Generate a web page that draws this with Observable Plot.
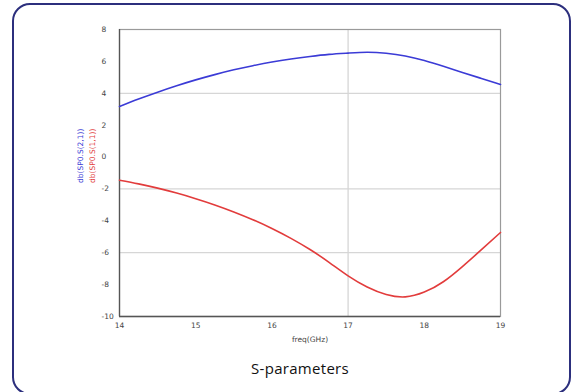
<!DOCTYPE html>
<html>
<head>
<meta charset="utf-8">
<script src="https://cdn.jsdelivr.net/npm/d3@7"></script>
<script src="https://cdn.jsdelivr.net/npm/@observablehq/plot@0.6"></script>
<style>
  html, body { margin: 0; padding: 0; background: #fff; }
  #page { position: relative; width: 574px; height: 392px; overflow: hidden; }
  #card { position: absolute; left: 12px; top: 3px; width: 559px; height: 392px;
          border: 2.5px solid #2c2f7d; border-radius: 18px; box-sizing: border-box; }
  #chart { position: absolute; left: 0; top: 0; }
  #title { position: absolute; left: 200px; width: 200px; top: 358px; text-align: center;
           font-family: "Open Sans", sans-serif; font-size: 15px; color: #111; letter-spacing: 0.3px; }
</style>
</head>
<body>
<div id="page">
  <div id="card"></div>
  <div id="chart"></div>
  <div id="title">S-parameters</div>
</div>
<script>
const freq = [14, 14.25, 14.5, 14.75, 15, 15.25, 15.5, 15.75, 16, 16.25, 16.5, 16.75, 17, 17.25, 17.5, 17.75, 18, 18.25, 18.5, 18.75, 19];
const s21 = [3.17, 3.64, 4.07, 4.47, 4.84, 5.17, 5.47, 5.73, 5.96, 6.15, 6.31, 6.44, 6.52, 6.57, 6.51, 6.34, 6.05, 5.69, 5.31, 4.93, 4.55];
const s11 = [-1.45, -1.68, -1.95, -2.26, -2.61, -3.0, -3.44, -3.93, -4.48, -5.1, -5.8, -6.6, -7.45, -8.15, -8.62, -8.77, -8.47, -7.82, -6.87, -5.81, -4.73];
const xTicks = [14, 15, 16, 17, 18, 19];
const yTicks = [8, 6, 4, 2, 0, -2, -4, -6, -8, -10];
const gridY = [4, -2, -6];
const gridX = [17];
const labelS21 = "db(SP0.S(2,1))";
const labelS11 = "db(SP0.S(1,1))";
const xLabel = "freq(GHz)";

const d21 = freq.map((f, i) => ({f, v: s21[i]}));
const d11 = freq.map((f, i) => ({f, v: s11[i]}));

const font = "'DejaVu Sans', sans-serif";

const plot = Plot.plot({
  width: 574,
  height: 350,
  marginLeft: 119,
  marginRight: 74,
  marginTop: 29,
  marginBottom: 34,
  style: {fontFamily: font, fontSize: "7.5px", color: "#444", background: "transparent", overflow: "visible"},
  x: {domain: [14, 19]},
  y: {domain: [-10, 8]},
  marks: [
    Plot.ruleY(gridY, {stroke: "#d6d6d6", strokeWidth: 1.3}),
    Plot.ruleX(gridX, {stroke: "#d6d6d6", strokeWidth: 1.3}),
    Plot.frame({stroke: "#9a9a9a", strokeWidth: 1.2}),
    Plot.ruleX([14], {stroke: "#555", strokeWidth: 1.3}),
    Plot.ruleY([-10], {stroke: "#555", strokeWidth: 1.3}),
    Plot.axisX({ticks: xTicks, tickSize: 0, tickPadding: 6, label: null, fill: "#444", tickFormat: d => String(d)}),
    Plot.axisY({ticks: yTicks, tickSize: 0, tickPadding: 0, textAnchor: "start", dx: -18, label: null, fill: "#444", tickFormat: d => String(d)}),
    Plot.text([xLabel], {frameAnchor: "bottom", dy: 25, fill: "#444", fontSize: 7.5}),
    Plot.line(d21, {x: "f", y: "v", stroke: "#3b3bd6", strokeWidth: 1.6, curve: "natural"}),
    Plot.line(d11, {x: "f", y: "v", stroke: "#e23c3c", strokeWidth: 1.6, curve: "natural"}),
    Plot.text([labelS21], {frameAnchor: "left", dx: -39, dy: 10, rotate: -90, fill: "#3b3bd6", fontSize: 7.5}),
    Plot.text([labelS11], {frameAnchor: "left", dx: -27, dy: 10, rotate: -90, fill: "#e23c3c", fontSize: 7.5})
  ]
});
document.getElementById("chart").appendChild(plot);
</script>
</body>
</html>
